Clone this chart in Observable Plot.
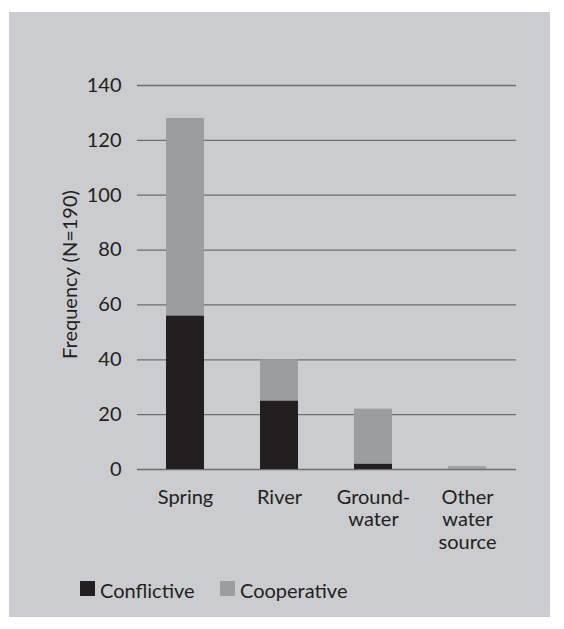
<!DOCTYPE html>
<html><head><meta charset="utf-8">
<script src="https://cdn.jsdelivr.net/npm/d3@7"></script>
<script src="https://cdn.jsdelivr.net/npm/@observablehq/plot@0.6"></script>
<style>
body{margin:0;background:#fff;font-family:Lato,sans-serif;color:#231f20;}
#panel{position:absolute;left:9px;top:12px;width:541px;height:605px;background:#cbcccf;}
#chart{position:absolute;left:0;top:0;}
.lg{position:absolute;top:580px;height:20px;line-height:20px;font-size:20px;white-space:nowrap;}
.sw{position:absolute;top:581px;width:15px;height:15px;}
</style></head><body>
<div id="panel"></div>
<div id="chart"></div>
<div id="legend"></div>
<script>
const sources = ["Spring", "River", "Groundwater", "Other water source"];
const sourceLabels = ["Spring", "River", "Ground-\nwater", "Other\nwater\nsource"];
const types = ["Conflictive", "Cooperative"];
const typeColors = ["#231f20", "#9c9da0"];
const conflictive = [56, 25, 2, 0];
const cooperative = [72, 15, 20, 1];
const yTicks = [0, 20, 40, 60, 80, 100, 120, 140];
const yLabel = "Frequency (N=190)";

const rows = [];
sources.forEach((s, i) => {
  rows.push({source: s, type: "Conflictive", value: conflictive[i]});
  rows.push({source: s, type: "Cooperative", value: cooperative[i]});
});

const chart = Plot.plot({
  width: 564,
  height: 560,
  marginLeft: 137,
  marginRight: 48,
  marginTop: 85,
  marginBottom: 91,
  style: {background: "transparent", fontFamily: "Lato, sans-serif", fontSize: "20px", color: "#231f20"},
  x: {domain: sources, paddingInner: 0.592, paddingOuter: 0.297, axis: null},
  y: {domain: [0, 140], axis: null},
  color: {domain: types, range: typeColors},
  marks: [
    Plot.ruleY(yTicks, {stroke: "#6d6e71", strokeWidth: 1.3}),
    Plot.barY(rows, {x: "source", y: "value", fill: "type"}),
    Plot.axisY({ticks: yTicks, tickSize: 0, tickPadding: 16, label: null, fontSize: 20, fill: "#231f20"}),
    Plot.text(sources, {x: d => d, text: (d, i) => sourceLabels[i], frameAnchor: "bottom", lineAnchor: "top", dy: 18, lineHeight: 1.13, fontSize: 20, fill: "#231f20"}),
    Plot.text([yLabel], {text: d => d, frameAnchor: "left", textAnchor: "middle", rotate: -90, dx: -67, dy: -3, fontSize: 20, fill: "#231f20"})
  ]
});
document.getElementById("chart").appendChild(chart);

const legend = document.getElementById("legend");
const lgX = [80, 220];
types.forEach((t, i) => {
  const sw = document.createElement("div");
  sw.className = "sw";
  sw.style.left = lgX[i] + "px";
  sw.style.background = typeColors[i];
  legend.appendChild(sw);
  const tx = document.createElement("div");
  tx.className = "lg";
  tx.style.left = (lgX[i] + 20) + "px";
  tx.textContent = t;
  legend.appendChild(tx);
});
</script>
</body></html>
